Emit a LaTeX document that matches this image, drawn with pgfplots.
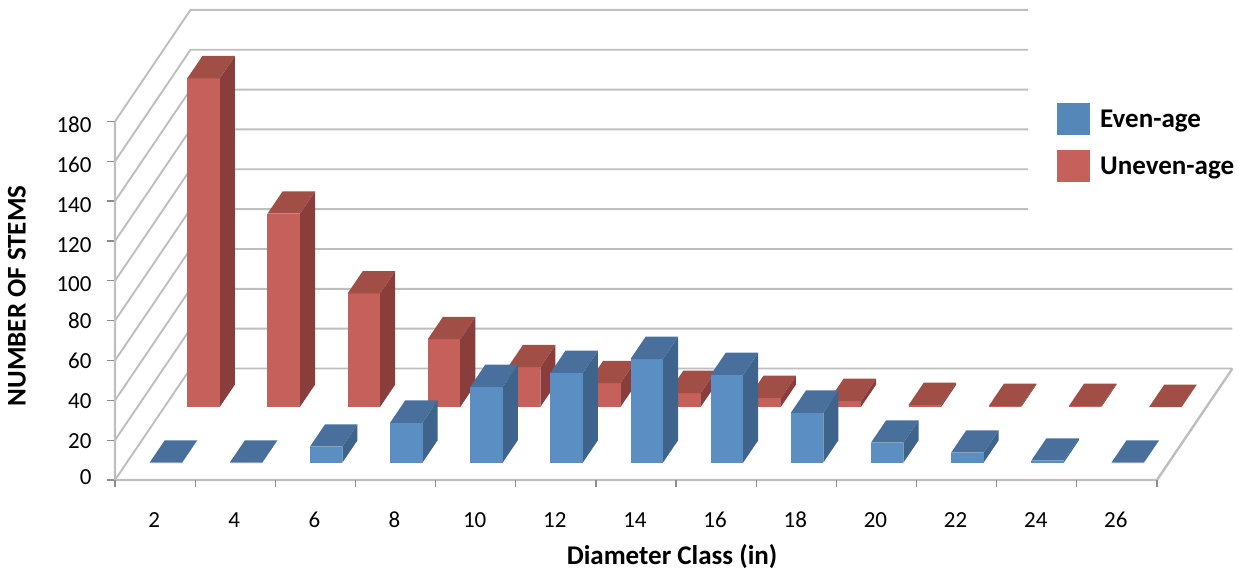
\documentclass[border=0pt]{standalone}
\usepackage{fontspec}
\setmainfont{Carlito}
\usepackage{pgfplots}
\pgfplotsset{compat=1.18}

\definecolor{evenfront}{RGB}{91,142,195}
\definecolor{eventop}{RGB}{73,112,156}
\definecolor{evenside}{RGB}{62,100,139}
\definecolor{unevenfront}{RGB}{198,96,90}
\definecolor{uneventop}{RGB}{160,78,70}
\definecolor{unevenside}{RGB}{137,62,60}
\definecolor{wallgray}{RGB}{190,190,190}
\definecolor{tickgray}{RGB}{140,140,140}

% one 3D column: class index, value, depth start, colour prefix
\newcommand{\column}[4]{%
  \pgfmathsetmacro{\xa}{#1-1+0.285}%
  \pgfmathsetmacro{\xb}{#1-1+0.69}%
  \pgfmathsetmacro{\ya}{#3}%
  \pgfmathsetmacro{\yb}{#3+0.2}%
  \addplot3[forget plot,no marks,fill=#4side,draw=none] coordinates {(\xb,\ya,0) (\xb,\yb,0) (\xb,\yb,#2) (\xb,\ya,#2)};
  \addplot3[forget plot,no marks,fill=#4front,draw=none] coordinates {(\xa,\ya,0) (\xb,\ya,0) (\xb,\ya,#2) (\xa,\ya,#2)};
  \addplot3[forget plot,no marks,fill=#4top,draw=none] coordinates {(\xa,\ya,#2) (\xb,\ya,#2) (\xb,\yb,#2) (\xa,\yb,#2)};
}
\newcommand{\even}[2]{\column{#1}{#2}{0.156}{even}}
\newcommand{\uneven}[2]{\column{#1}{#2}{0.655}{uneven}}
\newcommand{\gridline}[2]{%
  \addplot3[forget plot,no marks,wallgray,line width=1.9pt] coordinates {(0,0,#1) (0,1,#1) (#2,1,#1)};
  \addplot3[forget plot,no marks,tickgray,line width=1.3pt] coordinates {(-0.095,0,#1) (0,0,#1)};
}
\newcommand{\xtickmark}[1]{%
  \addplot3[forget plot,no marks,tickgray,line width=1.3pt] coordinates {(#1,0,0) (#1,0,-3.6)};
}

\begin{document}
\begin{tikzpicture}
\begin{axis}[
  x={(80.15pt,0pt)}, y={(75.5pt,111.5pt)}, z={(0pt,1.992pt)},
  xmin=0, xmax=13, ymin=0, ymax=1, zmin=0, zmax=180,
  clip=false,
  axis lines*=left,
  axis line style={draw=none},
  xtick={0,...,13},
  x tick label as interval,
  xticklabels={2,4,6,8,10,12,14,16,18,20,22,24,26},
  ytick=\empty,
  ztick={0,20,...,180},
  tick align=outside,
  tick style={draw=none},
  major tick length=7pt,
  typeset ticklabels with strut,
  tick label style={font=\fontsize{23}{26}\selectfont,/pgf/number format/assume math mode=true},
  xticklabel style={xshift=8pt,yshift=-20pt},
  zticklabel style={xshift=-16pt,yshift=11pt},
  xlabel={\textbf{Diameter Class (in)}},
  zlabel={\textbf{NUMBER OF STEMS}},
  every axis x label/.style={at={(axis cs:6.95,0,-38.2)},anchor=center,font=\fontsize{27}{30}\selectfont},
  every axis z label/.style={at={(axis cs:-1.223,0,92.4)},anchor=center,rotate=90,font=\fontsize{27}{30}\selectfont},
  legend cell align=left,
  legend style={at={(axis cs:11.753,0,189.3)},anchor=north west,draw=none,fill=none,inner sep=0pt,
    row sep=15pt,font=\fontsize{27}{30}\selectfont\bfseries,
    /tikz/every odd column/.style={column sep=8pt}},
  legend image code/.code={\fill[#1,draw=none] (0pt,-16pt) rectangle (33pt,16pt);},
]
% back wall and floor
\gridline{180}{10.45}
\gridline{160}{10.45}
\gridline{140}{10.45}
\gridline{120}{10.45}
\gridline{100}{10.45}
\gridline{80}{10.45}
\gridline{60}{13}
\gridline{40}{13}
\gridline{20}{13}
\gridline{0}{13}
\addplot3[forget plot,no marks,wallgray,line width=2.4pt] coordinates {(13,1,0) (13,0,0) (0,0,0) (0,0,180)};
\xtickmark{0}
\xtickmark{1}
\xtickmark{2}
\xtickmark{3}
\xtickmark{4}
\xtickmark{5}
\xtickmark{6}
\xtickmark{7}
\xtickmark{8}
\xtickmark{9}
\xtickmark{10}
\xtickmark{11}
\xtickmark{12}
\xtickmark{13}

% uneven-age first, it stands behind
\uneven{1}{165}
\uneven{2}{97}
\uneven{3}{57}
\uneven{4}{34}
\uneven{5}{20}
\uneven{6}{12}
\uneven{7}{7}
\uneven{8}{4.5}
\uneven{9}{3}
\uneven{10}{1}
\uneven{11}{0.5}
\uneven{12}{0.5}
\uneven{13}{0}

\even{1}{0}
\even{2}{0}
\even{3}{8}
\even{4}{20}
\even{5}{38}
\even{6}{45}
\even{7}{52}
\even{8}{44}
\even{9}{25}
\even{10}{10}
\even{11}{5}
\even{12}{1}
\even{13}{0}

\addlegendimage{fill=evenfront!95!black}
\addlegendentry{Even-age}
\addlegendimage{fill=unevenfront}
\addlegendentry{Uneven-age}

\coordinate (bl) at (axis cs:-1.4348,0,-45.68);
\coordinate (tr) at (axis cs:14.011,0,240.96);
\end{axis}
\pgfresetboundingbox
\path[use as bounding box] (bl) rectangle (tr);
\end{tikzpicture}
\end{document}
